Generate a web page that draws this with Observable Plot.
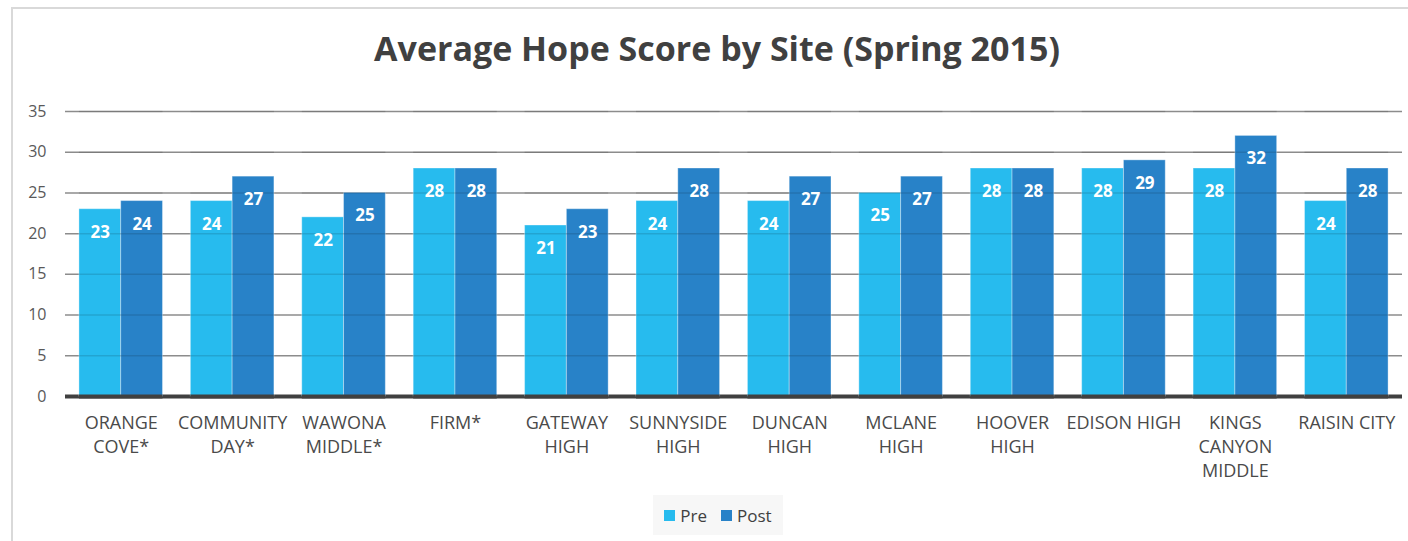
<!DOCTYPE html>
<html>
<head>
<meta charset="utf-8">
<script src="https://cdn.jsdelivr.net/npm/d3@7"></script>
<script src="https://cdn.jsdelivr.net/npm/@observablehq/plot@0.6"></script>
<style>
  body { margin: 0; background: #fff; font-family: "Open Sans", sans-serif; }
  #wrap { position: relative; width: 1408px; height: 541px; overflow: hidden; background: #fff; }
  #border { position: absolute; left: 11px; top: 7px; width: 1440px; height: 600px; border: 2px solid #d9d9d9; box-sizing: border-box; }
  #title { position: absolute; left: 0; top: 28px; width: 1434px; text-align: center; font-size: 34px; line-height: 40px; font-weight: 700; color: #404040; }
  #grid, #chart { position: absolute; left: 0; top: 95px; }
  #legend { position: absolute; left: 653px; top: 495px; width: 130px; height: 40px; background: #f7f7f7; display: flex; align-items: center; justify-content: center; font-size: 17px; color: #404040; }
  .sw { display: inline-block; width: 11px; height: 11px; margin-right: 5px; }
  .item { display: flex; align-items: center; margin: 0 7px; }
</style>
</head>
<body>
<div id="wrap">
  <div id="border"></div>
  <div id="title">Average Hope Score by Site (Spring 2015)</div>
  <div id="grid"></div>
  <div id="chart"></div>
  <div id="legend"></div>
</div>
<script>
const sites = ["ORANGE\nCOVE*", "COMMUNITY\nDAY*", "WAWONA\nMIDDLE*", "FIRM*", "GATEWAY\nHIGH", "SUNNYSIDE\nHIGH", "DUNCAN\nHIGH", "MCLANE\nHIGH", "HOOVER\nHIGH", "EDISON HIGH", "KINGS\nCANYON\nMIDDLE", "RAISIN CITY"];
const pre  = [23, 24, 22, 28, 21, 24, 24, 25, 28, 28, 28, 24];
const post = [24, 27, 25, 28, 23, 28, 27, 27, 28, 29, 32, 28];
const series = ["Pre", "Post"];
const seriesColors = ["#27BBEE", "#2882C8"];
const yTicks = [0, 5, 10, 15, 20, 25, 30, 35];

const rows = sites.flatMap((s, i) => [
  {site: s, period: "Pre", value: pre[i]},
  {site: s, period: "Post", value: post[i]}
]);

const frame = {width: 1408, height: 395, marginTop: 16, marginBottom: 94, marginLeft: 65, marginRight: 6};

// Background layer: full-width gridlines, baseline and y axis
const grid = Plot.plot({
  ...frame,
  style: {fontFamily: "Open Sans", background: "transparent"},
  y: {domain: [0, 35], axis: null},
  marks: [
    Plot.ruleY(yTicks.filter(d => d > 0), {stroke: "#8c8c8c", strokeWidth: 1.5}),
    Plot.ruleY([0], {stroke: "#404040", strokeWidth: 4}),
    Plot.axisY(yTicks, {tickSize: 0, tickPadding: 19, fontSize: 16, fill: "#595959", label: null})
  ]
});
document.getElementById("grid").appendChild(grid);

// Foreground layer: grouped bars via fx facets
const chart = Plot.plot({
  ...frame,
  style: {fontFamily: "Open Sans", background: "transparent"},
  fx: {domain: sites, paddingInner: 0.25, paddingOuter: 0.125, round: false, label: null},
  x: {domain: series, padding: 0, round: false, axis: null},
  y: {domain: [0, 35], axis: null},
  color: {domain: series, range: seriesColors},
  marks: [
    Plot.barY(rows, {fx: "site", x: "period", y: "value", fill: "period", stroke: "#ffffff", strokeOpacity: 0.35, strokeWidth: 1}),
    Plot.ruleY(yTicks.filter(d => d > 0), {stroke: "#000", strokeOpacity: 0.12, strokeWidth: 1.5}),
    Plot.ruleY([0], {stroke: "#404040", strokeWidth: 4}),
    Plot.text(rows, {fx: "site", x: "period", y: "value", text: d => String(d.value), dy: 23, fill: "#ffffff", fontWeight: "bold", fontSize: 17}),
    Plot.axisFx({anchor: "bottom", tickSize: 0, tickPadding: 15, fontSize: 18, lineHeight: 1.35, fill: "#4a4a4a", label: null})
  ]
});
document.getElementById("chart").appendChild(chart);

const legend = document.getElementById("legend");
series.forEach((s, i) => {
  const it = document.createElement("div");
  it.className = "item";
  it.innerHTML = `<span class="sw" style="background:${seriesColors[i]}"></span><span>${s}</span>`;
  legend.appendChild(it);
});
</script>
</body>
</html>
